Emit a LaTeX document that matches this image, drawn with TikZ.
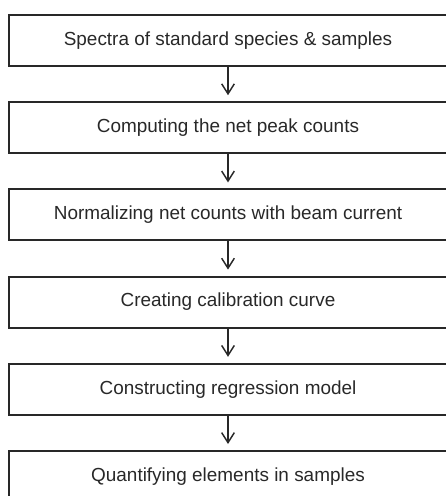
\documentclass[tikz,border=0pt]{standalone}
\usepackage{fontspec}
\setmainfont{Liberation Sans}
\usepackage{xcolor}
\usetikzlibrary{arrows.meta,positioning}
\definecolor{ink}{RGB}{40,40,40}

\begin{document}
\begin{tikzpicture}[x=0.75pt,y=0.75pt,
  stepbox/.style={draw=ink,line width=1.5pt,text=ink,minimum width=328.5pt,
    minimum height=38.25pt,inner sep=0pt,font=\fontsize{14.2}{17}\selectfont},
  flow/.style={draw=ink,line width=1.1pt,shorten >=4.5pt,
    -{Straight Barb[length=7.5pt,width=9.5pt,line width=1.1pt]}},
  node distance=25.65pt]
\useasboundingbox (0,0) rectangle (446,-496);
\clip (0,0) rectangle (446,-496);
% steps of the procedure, top to bottom
\node[stepbox,anchor=north] (spectra) at (228,-14) {Spectra of standard species \& samples};
\node[stepbox,below=of spectra] (netpeak) {Computing the net peak counts};
\node[stepbox,below=of netpeak] (normal) {Normalizing net counts with beam current};
\node[stepbox,below=of normal] (calib) {Creating calibration curve};
\node[stepbox,below=of calib] (regress) {Constructing regression model};
\node[stepbox,below=of regress] (quant) {Quantifying elements in samples};
% arrows
\draw[flow] (spectra) -- (netpeak);
\draw[flow] (netpeak) -- (normal);
\draw[flow] (normal) -- (calib);
\draw[flow] (calib) -- (regress);
\draw[flow] (regress) -- (quant);
\end{tikzpicture}
\end{document}
